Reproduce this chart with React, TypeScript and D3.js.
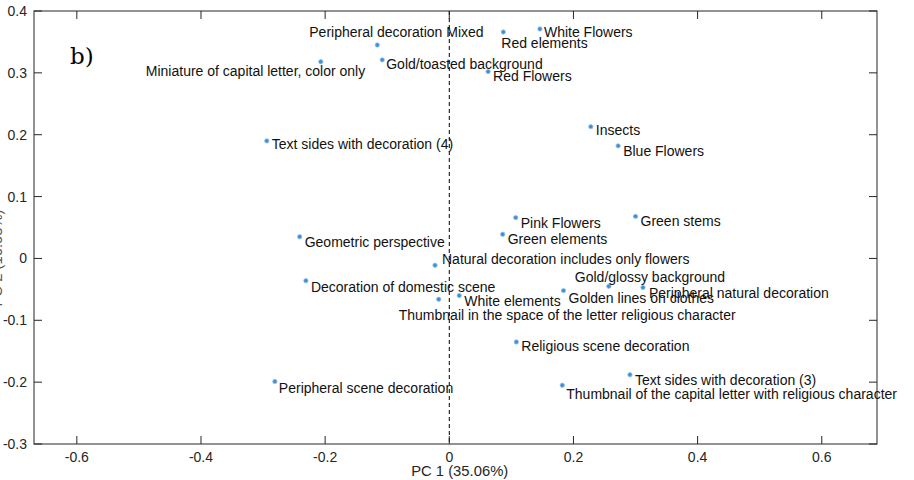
import React from 'react';
import * as d3 from 'd3';

// PCA biplot: decoration attributes on the first two principal components
const categories = [
  'Peripheral decoration Mixed',
  'Red elements',
  'White Flowers',
  'Miniature of capital letter, color only',
  'Gold/toasted background',
  'Red Flowers',
  'Insects',
  'Blue Flowers',
  'Pink Flowers',
  'Green stems',
  'Green elements',
  'Gold/glossy background',
  'Peripheral natural decoration',
  'Golden lines on clothes',
  'Natural decoration includes only flowers',
  'Geometric perspective',
  'Decoration of domestic scene',
  'Thumbnail in the space of the letter religious character',
  'White elements',
  'Text sides with decoration (4)',
  'Peripheral scene decoration',
  'Religious scene decoration',
  'Text sides with decoration (3)',
  'Thumbnail of the capital letter with religious character',
];

const pc1 = [
  -0.116, 0.087, 0.146, -0.207, -0.108, 0.0625, 0.228, 0.272, 0.107, 0.3, 0.086, 0.257,
  0.312, 0.184, -0.023, -0.241, -0.231, -0.017, 0.016, -0.294, -0.281, 0.108, 0.291, 0.182,
];

const pc2 = [
  0.345, 0.366, 0.371, 0.318, 0.321, 0.302, 0.213, 0.182, 0.066, 0.068, 0.039, -0.045,
  -0.047, -0.052, -0.011, 0.035, -0.036, -0.066, -0.06, 0.19, -0.199, -0.135, -0.188, -0.205,
];

const xTickValues = [-0.6, -0.4, -0.2, 0, 0.2, 0.4, 0.6];
const xTickLabels = ['-0.6', '-0.4', '-0.2', '0', '0.2', '0.4', '0.6'];
const yTickValues = [-0.3, -0.2, -0.1, 0, 0.1, 0.2, 0.3, 0.4];
const yTickLabels = ['-0.3', '-0.2', '-0.1', '0', '0.1', '0.2', '0.3', '0.4'];

const xAxisTitle = 'PC 1 (35.06%)';
const yAxisTitle = 'PC 2 (16.03%)';
const panelTag = 'b)';

// Text placement of each point label, offset in pixels from its point
const labelDx = [-68, -2, 4, -175, 4, 5, 5, 5, 5, 5, 5, -34, 6, 5, 7, 5, 5, -40, 5, 5, 4, 5, 5, 4];
const labelDy = [-8, 16, 8, 14, 9, 9, 8, 10, 10, 10, 10, -4, 10, 12, -1, 10, 11, 21, 10, 8, 11, 9, 10, 14];

const W = 914;
const H = 480;
const plotLeft = 34;
const plotRight = 877;
const plotTop = 11;
const plotBottom = 444;
const tickLen = 8;
const axisColor = '#262626';
const font = '"Liberation Sans", Arial, sans-serif';

export default function App() {
  const x = d3.scaleLinear().domain([-0.669, 0.689]).range([plotLeft, plotRight]);
  const y = d3.scaleLinear().domain([-0.3, 0.4]).range([plotBottom, plotTop]);

  const points = categories.map((name, i) => ({
    name,
    cx: x(pc1[i]),
    cy: y(pc2[i]),
    dx: labelDx[i],
    dy: labelDy[i],
  }));

  return (
    <svg
      width={W}
      height={H}
      viewBox={`0 0 ${W} ${H}`}
      style={{ position: 'fixed', left: 0, top: 0, background: '#fff' }}
    >
      <rect x={0} y={0} width={W} height={H} fill="#fff" />

      {/* y axis title, sitting mostly beyond the left edge */}
      <text
        transform={`translate(2, 258) rotate(-90)`}
        textAnchor="middle"
        fontFamily={font}
        fontSize={14.8}
        fill="#555"
      >
        {yAxisTitle}
      </text>

      {/* zero line for PC 1 */}
      <line
        x1={x(0)}
        x2={x(0)}
        y1={plotTop}
        y2={plotBottom}
        stroke="#000"
        strokeWidth={1}
        strokeDasharray="4,3"
      />

      {/* box */}
      <rect
        x={plotLeft}
        y={plotTop}
        width={plotRight - plotLeft}
        height={plotBottom - plotTop}
        fill="none"
        stroke={axisColor}
        strokeWidth={1}
      />

      {/* x ticks on bottom and top */}
      {xTickValues.map((v, i) => (
        <g key={`xt${i}`}>
          <line x1={x(v)} x2={x(v)} y1={plotBottom} y2={plotBottom - tickLen} stroke={axisColor} />
          <line x1={x(v)} x2={x(v)} y1={plotTop} y2={plotTop + tickLen} stroke={axisColor} />
          <text
            x={x(v)}
            y={plotBottom + 18}
            textAnchor="middle"
            fontFamily={font}
            fontSize={14}
            fill={axisColor}
          >
            {xTickLabels[i]}
          </text>
        </g>
      ))}

      {/* y ticks on left and right */}
      {yTickValues.map((v, i) => (
        <g key={`yt${i}`}>
          <line x1={plotLeft} x2={plotLeft + tickLen} y1={y(v)} y2={y(v)} stroke={axisColor} />
          <line x1={plotRight} x2={plotRight - tickLen} y1={y(v)} y2={y(v)} stroke={axisColor} />
          <text
            x={plotLeft - 7}
            y={y(v) + 5}
            textAnchor="end"
            fontFamily={font}
            fontSize={14}
            fill={axisColor}
          >
            {yTickLabels[i]}
          </text>
        </g>
      ))}

      {/* x axis title */}
      <text
        x={459.7}
        y={476}
        textAnchor="middle"
        fontFamily={font}
        fontSize={14.8}
        fill={axisColor}
      >
        {xAxisTitle}
      </text>

      {/* panel tag */}
      <text x={70} y={63.5} fontFamily='"DejaVu Serif", "Liberation Serif", serif' fontSize={23} fill="#000">
        {panelTag}
      </text>

      {/* points */}
      {points.map((p, i) => (
        <circle
          key={`pt${i}`}
          cx={p.cx}
          cy={p.cy}
          r={2.2}
          fill="#3f8fd4"
          stroke="#9cc6ea"
          strokeWidth={0.8}
        />
      ))}

      {/* point labels */}
      {points.map((p, i) => (
        <text
          key={`lb${i}`}
          x={p.cx + p.dx}
          y={p.cy + p.dy}
          fontFamily={font}
          fontSize={14}
          fill="#111"
        >
          {p.name}
        </text>
      ))}
    </svg>
  );
}
